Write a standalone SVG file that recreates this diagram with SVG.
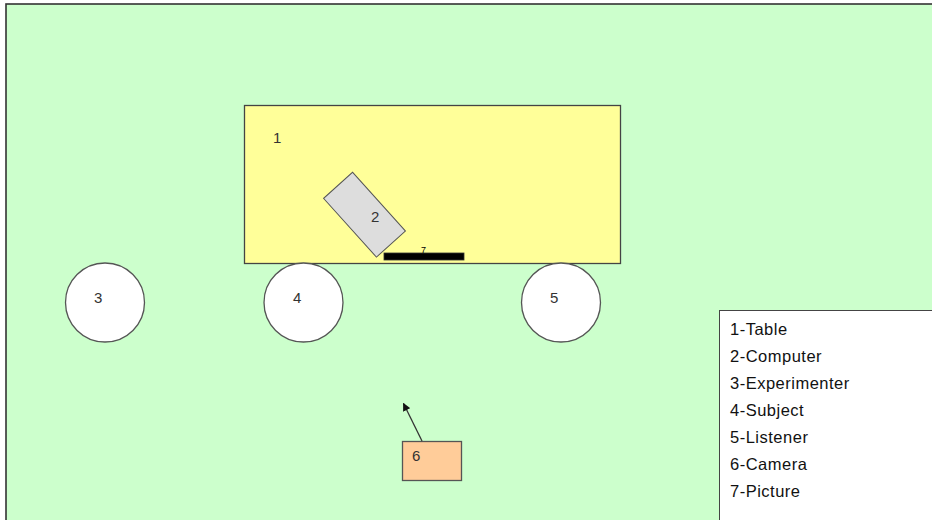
<svg xmlns="http://www.w3.org/2000/svg" width="932" height="520" viewBox="0 0 932 520">
<style>
.lbl{font-family:"Liberation Sans",Arial,sans-serif;font-size:15px;fill:#333}
.leg{font-family:"Liberation Sans",Arial,sans-serif;font-size:16.5px;fill:#111;letter-spacing:0.5px}
.circ{fill:#fff;stroke:#555;stroke-width:1.3}
</style>
<defs>
<marker id="ah" viewBox="0 0 10 10" refX="9" refY="5" markerWidth="8" markerHeight="8" orient="auto" markerUnits="userSpaceOnUse">
<path d="M0,0 L10,5 L0,10 z" fill="#111"/>
</marker>
</defs>
<rect x="0" y="0" width="932" height="520" fill="#fff"/>
<rect id="floor" x="6" y="4" width="940" height="530" fill="#CCFFCC" stroke="#333" stroke-width="1.6"/>
<g id="n1">
<rect x="244.5" y="105.5" width="376" height="158" fill="#FFFF99" stroke="#444" stroke-width="1.3"/>
<text class="lbl" x="273" y="143">1</text>
</g>
<g id="n2">
<rect x="-19.5" y="-39.5" width="39" height="79" fill="#DDDDDD" stroke="#555" stroke-width="1" transform="translate(364.5,214.7) rotate(-42)"/>
<text class="lbl" x="371" y="222">2</text>
</g>
<g id="n7">
<rect x="384" y="253" width="80" height="7" fill="#000" stroke="#333" stroke-width="0.8"/>
<text x="421" y="253" style="font-family:'Liberation Sans',Arial,sans-serif;font-size:9px;fill:#000">7</text>
</g>
<g id="n3">
<circle class="circ" cx="105" cy="302.5" r="39.5"/>
<text class="lbl" x="94" y="303">3</text>
</g>
<g id="n4">
<circle class="circ" cx="303.5" cy="302.5" r="39.5"/>
<text class="lbl" x="293" y="303">4</text>
</g>
<g id="n5">
<circle class="circ" cx="561" cy="302.5" r="39.5"/>
<text class="lbl" x="550" y="303">5</text>
</g>
<g id="n6">
<rect x="402.5" y="441.5" width="59" height="39" fill="#FFCC99" stroke="#555" stroke-width="1.3"/>
<text class="lbl" x="412" y="461">6</text>
</g>
<g id="connectors">
<line x1="422" y1="441" x2="403.5" y2="403.5" stroke="#333" stroke-width="1.3" marker-end="url(#ah)"/>
</g>
<g id="legend">
<rect x="719.5" y="310.5" width="230" height="230" fill="#fff" stroke="#444" stroke-width="1"/>
<text class="leg" x="730" y="335">1-Table</text>
<text class="leg" x="730" y="362">2-Computer</text>
<text class="leg" x="730" y="389">3-Experimenter</text>
<text class="leg" x="730" y="416">4-Subject</text>
<text class="leg" x="730" y="443">5-Listener</text>
<text class="leg" x="730" y="470">6-Camera</text>
<text class="leg" x="730" y="497">7-Picture</text>
</g>
</svg>
